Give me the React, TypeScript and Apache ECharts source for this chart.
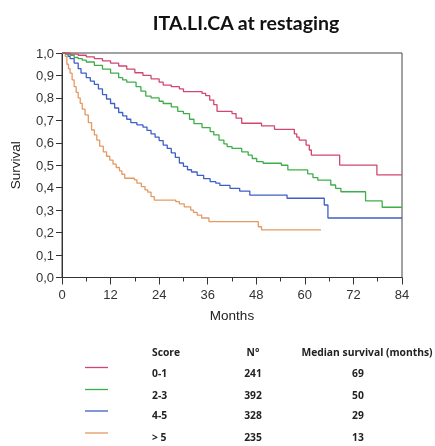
import React, { useEffect, useRef } from "react";
import * as echarts from "echarts";

const title = "ITA.LI.CA at restaging";
const xTicks = [0, 12, 24, 36, 48, 60, 72, 84];
const scores = ["0-1", "2-3", "4-5", "> 5"];
const counts = ["241", "392", "328", "235"];
const medians = ["69", "50", "29", "13"];
const colors = ["#d2476f", "#3fae4a", "#3f5fc8", "#e49a62"];

const red: [number, number][] = [
  [0, 1.0], [2, 0.995], [4, 0.99], [6, 0.983], [8, 0.975], [10, 0.965], [12, 0.955], [14, 0.942],
  [16, 0.928], [18, 0.912], [20, 0.9], [22, 0.885], [24, 0.87], [25, 0.857], [27, 0.85], [29, 0.84],
  [30, 0.828], [34.6, 0.82], [35.5, 0.81], [36.5, 0.79], [37.5, 0.77], [38.3, 0.74], [42, 0.73],
  [43, 0.71], [44.4, 0.687], [49.3, 0.675], [52.5, 0.66], [57.4, 0.64], [58, 0.625], [58.6, 0.612],
  [60.3, 0.59], [61.1, 0.568], [61.6, 0.545], [68.6, 0.501], [77.8, 0.457], [84, 0.457],
];
const green: [number, number][] = [
  [0, 1], [1, 0.995], [2, 0.99], [3, 0.98], [4, 0.975], [5, 0.968], [6, 0.96], [8, 0.945],
  [10, 0.928], [12, 0.91], [14, 0.89], [15, 0.88], [16, 0.87], [18.3, 0.85], [19.5, 0.83],
  [20.7, 0.808], [22, 0.8], [24, 0.785], [25, 0.775], [27, 0.76], [28.6, 0.74], [30, 0.73],
  [31.5, 0.705], [32.6, 0.685], [34.6, 0.668], [36.6, 0.65], [37.5, 0.635], [38.8, 0.612],
  [40, 0.595], [40.8, 0.583], [42, 0.575], [44.4, 0.56], [46, 0.545], [47, 0.53], [48.1, 0.516],
  [49.7, 0.509], [54.2, 0.5], [55.8, 0.479], [60.7, 0.462], [62, 0.445], [63.2, 0.434],
  [66.4, 0.412], [67.6, 0.397], [68.9, 0.382], [75, 0.341], [79.1, 0.313], [84, 0.313],
];
const blue: [number, number][] = [
  [0, 1], [1, 0.995], [1.5, 0.985], [2, 0.975], [3, 0.955], [4, 0.93], [4.7, 0.91], [6, 0.89],
  [7, 0.875], [8, 0.86], [9, 0.84], [10, 0.815], [11, 0.795], [12, 0.775], [13, 0.755],
  [14, 0.735], [15, 0.72], [16, 0.705], [17, 0.69], [18.5, 0.68], [20, 0.67], [21, 0.655],
  [22, 0.64], [23, 0.625], [24, 0.61], [25, 0.59], [26, 0.575], [27, 0.555], [28, 0.535],
  [29, 0.51], [30, 0.495], [31, 0.48], [32, 0.47], [33.4, 0.455], [35, 0.44], [36.6, 0.427],
  [38, 0.42], [39, 0.41], [41.5, 0.397], [43.9, 0.385], [46.4, 0.367], [55.6, 0.353],
  [64.8, 0.323], [65.7, 0.265], [84, 0.265],
];
const orange: [number, number][] = [
  [0, 1], [0.8, 0.985], [1.2, 0.95], [1.6, 0.93], [2, 0.91], [2.5, 0.88], [3, 0.85], [3.5, 0.825],
  [4, 0.8], [4.5, 0.776], [5, 0.75], [5.7, 0.724], [6.5, 0.69], [7.3, 0.657], [8, 0.635],
  [8.6, 0.612], [9.3, 0.585], [10.2, 0.56], [11, 0.54], [11.8, 0.523], [12.6, 0.505],
  [13.4, 0.49], [14.2, 0.475], [14.8, 0.46], [15.5, 0.442], [17.9, 0.435], [18.5, 0.42],
  [19.6, 0.405], [20.5, 0.39], [21.2, 0.38], [22, 0.36], [22.8, 0.345], [28.1, 0.338],
  [29, 0.328], [30.2, 0.315], [31.8, 0.3], [32.5, 0.29], [33.4, 0.278], [34.5, 0.265],
  [36.3, 0.249], [48.5, 0.226], [49.3, 0.212], [64, 0.212],
];
const curves = [red, green, blue, orange];

export default function App() {
  const ref = useRef<HTMLDivElement>(null);
  useEffect(() => {
    if (!ref.current) return;
    const chart = echarts.init(ref.current, null, { renderer: "svg" });
    const rowY = [373, 395, 415, 437];
    const lineY = [367.5, 389.5, 411, 433];
    const txt = (text: string, x: number, y: number, align: string) => ({
      type: "text",
      x,
      y,
      style: {
        text,
        fontFamily: "Open Sans, sans-serif",
        fontWeight: "bold",
        fontSize: 10.3,
        fill: "#222",
        align,
        verticalAlign: "middle",
      },
    });
    const graphics: any[] = [
      txt("Score", 152, 352, "left"),
      txt("N°", 253, 352, "center"),
      txt("Median survival (months)", 367, 352, "center"),
    ];
    scores.forEach((s, i) => {
      graphics.push({ type: "line", shape: { x1: 85, y1: lineY[i], x2: 108, y2: lineY[i] }, style: { stroke: colors[i], lineWidth: 1.3 } });
      graphics.push(txt(s, 152, rowY[i], "left"));
      graphics.push(txt(counts[i], 253, rowY[i], "center"));
      graphics.push(txt(medians[i], 358, rowY[i], "center"));
    });
    chart.setOption({
      animation: false,
      title: {
        text: title,
        left: 241,
        top: 7,
        textAlign: "center",
        textStyle: { fontFamily: "Lato, sans-serif", fontWeight: "bold", fontSize: 19.5, color: "#111" },
      },
      grid: { left: 58, right: 33, top: 53, bottom: 168.5, show: true, borderColor: "#444", borderWidth: 1 },
      xAxis: {
        type: "value",
        min: 0,
        max: 84,
        interval: 12,
        name: "Months",
        nameLocation: "middle",
        nameGap: 31,
        nameTextStyle: { fontFamily: "Liberation Sans, Arial, sans-serif", fontSize: 13.5, color: "#222" },
        axisLine: { show: true, lineStyle: { color: "#333", width: 1 } },
        axisTick: { show: true, length: 7, lineStyle: { color: "#333" } },
        minorTick: { show: true, splitNumber: 2, length: 4, lineStyle: { color: "#333" } },
        splitLine: { show: false },
        axisLabel: { fontFamily: "Liberation Sans, Arial, sans-serif", fontSize: 13, color: "#333", margin: 10, formatter: (v: number) => (xTicks.includes(v) ? String(v) : "") },
      },
      yAxis: {
        type: "value",
        min: 0,
        max: 1,
        interval: 0.1,
        name: "Survival",
        nameLocation: "middle",
        nameGap: 40,
        nameTextStyle: { fontFamily: "Liberation Sans, Arial, sans-serif", fontSize: 13.5, color: "#222" },
        axisLine: { show: true, lineStyle: { color: "#333", width: 1 } },
        axisTick: { show: true, length: 6, lineStyle: { color: "#333" } },
        splitLine: { show: false },
        axisLabel: { fontFamily: "Liberation Sans, Arial, sans-serif", fontSize: 13, color: "#333", margin: 8, formatter: (v: number) => v.toFixed(1).replace(".", ",") },
      },
      series: curves.map((c, i) => ({
        type: "line",
        name: scores[i],
        data: c,
        step: "end",
        showSymbol: false,
        lineStyle: { color: colors[i], width: 1.3 },
        itemStyle: { color: colors[i] },
        z: 4 - i,
      })),
      graphic: graphics,
    });
    return () => chart.dispose();
  }, []);
  return <div ref={ref} style={{ position: "fixed", left: 0, top: 0, width: 435, height: 446 }} />;
}
